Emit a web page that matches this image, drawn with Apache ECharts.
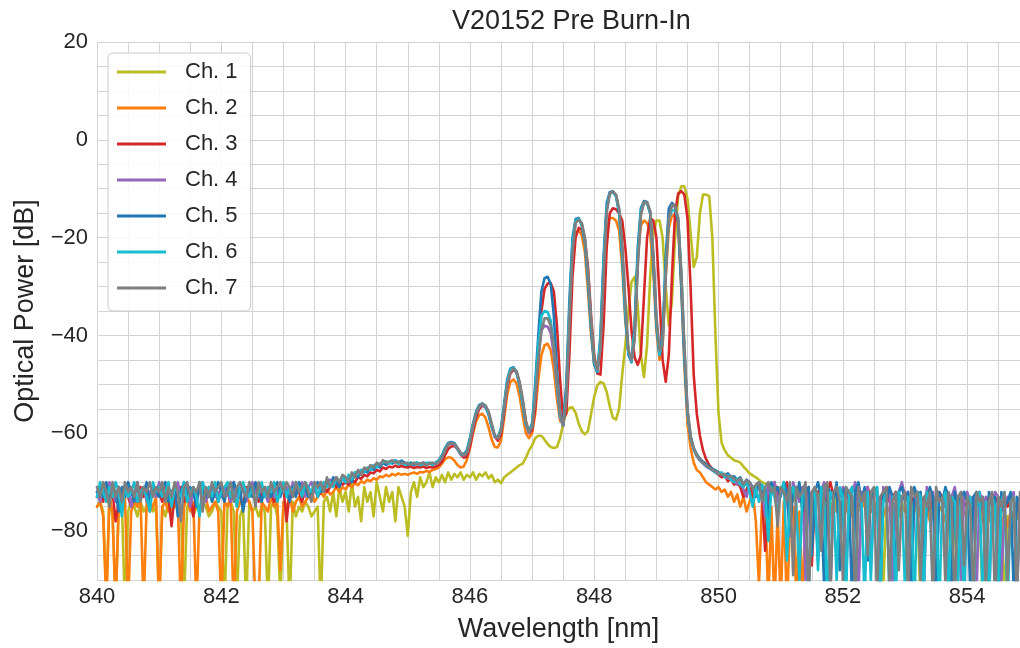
<!DOCTYPE html>
<html>
<head>
<meta charset="utf-8">
<title>V20152 Pre Burn-In</title>
<script src="https://cdn.jsdelivr.net/npm/echarts@6/dist/echarts.min.js"></script>
<style>
  html, body { margin: 0; padding: 0; background: #ffffff; }
  #chart { width: 1020px; height: 648px; }
</style>
</head>
<body>
<div id="chart"></div>
<script>
// Optical spectra of the seven channels, sampled every 0.05 nm from 840 nm.
const wavelengthStart = 840;
const wavelengthStep = 0.05;

const channelNames = ['Ch. 1', 'Ch. 2', 'Ch. 3', 'Ch. 4', 'Ch. 5', 'Ch. 6', 'Ch. 7'];
const xTickLabels = [840, 842, 844, 846, 848, 850, 852, 854];
const yTickLabels = [-80, -60, -40, -20, 0, 20];

// Power in dB, one row per nanometre (840, 841, ... 854)
const ch1 = [
  -75,-74,-76,-94,-73,-77,-95,-75,-74,-96,-76,-74,-75,-77,-74,-76,-75,-73,-76,-75,
  -96,-75,-77,-74,-76,-75,-74,-76,-95,-75,-74,-77,-75,-76,-74,-75,-77,-76,-74,-75,
  -76,-96,-75,-74,-76,-95,-77,-75,-96,-74,-76,-75,-77,-75,-76,-96,-75,-74,-77,-94,
  -75,-76,-96,-74,-77,-75,-76,-74,-75,-77,-76,-75,-96,-74,-73,-76,-72,-77,-71,-74,
  -72,-76,-70,-75,-73,-78,-71,-74,-72,-77,-70,-73,-76,-71,-74,-72,-78,-71,-73,-75,
  -81,-72,-70,-73,-69,-71,-70,-68,-71,-69,-70,-68.5,-70,-68,-69.5,-68.3,-69,-68,-69.5,-68.5,
  -69,-68,-69.5,-68.3,-68.8,-68,-69.2,-68.5,-70,-69.5,-70.2,-69,-68.5,-68,-67.5,-67,-66.5,-66.2,-65,-63.5,
  -62.5,-61,-60.5,-60.5,-61.3,-62.2,-62.8,-63,-62.8,-61,-58,-55.8,-54.8,-54.7,-55.8,-58,-59.6,-60.2,-59.5,-56,
  -52.5,-50.2,-49.5,-49.8,-51.5,-54.5,-56.8,-57.2,-55,-48,-42,-35,-29,-28,-34,-44,-48.5,-42,-28,-19,
  -16.5,-16.5,-20,-30,-38,-33,-20,-11.5,-9.5,-9.5,-12,-19,-26,-24,-15,-11.2,-11.2,-11.5,-20,-40,
  -56,-62,-63.5,-64.5,-65,-65.5,-65.7,-66,-66.8,-67.5,-68.2,-68.6,-69,-69.5,-70,-70.3,-71,-70.5,-72,-71,
  -71.5,-72,-73,-71,-74,-72,-73,-75,-72,-74,-73,-76,-72,-74,-75,-73,-74,-76,-73,-75,
  -74,-75,-73,-76,-74,-90,-75,-73,-76,-74,-75,-77,-74,-92,-75,-76,-74,-75,-77,-74,
  -76,-75,-77,-74,-76,-95,-75,-77,-76,-74,-77,-75,-76,-78,-75,-93,-76,-77,-75,-76,
  -77,-75,-78,-76,-77,-94,-76,-78,-77,-75,-78,-76,-95,-77,-78,-76,-77,-78,-76
];

const ch2 = [
  -75,-74,-77,-95,-73,-76,-96,-74,-75,-73,-96,-76,-74,-75,-73,-96,-74,-76,-75,-73,
  -96,-75,-74,-76,-73,-75,-74,-96,-75,-73,-76,-74,-96,-75,-74,-73,-76,-75,-74,-76,
  -96,-74,-75,-73,-97,-76,-74,-75,-73,-74,-76,-96,-95,-74,-75,-76,-73,-75,-74,-88,
  -74,-75,-73,-76,-74,-73,-75,-74,-73,-72,-74,-73,-72,-73,-71.5,-72.5,-72,-71,-72,-71,
  -71.5,-70.5,-71,-70.2,-70.6,-69.8,-70.2,-69.5,-69.8,-69.2,-69.5,-68.8,-69,-68.5,-68.8,-68.3,-68.6,-68.2,-68.5,-68.3,
  -68.5,-68.2,-68,-68.3,-67.9,-68,-67.7,-67.9,-67.5,-67.3,-67,-66.2,-65.3,-64.9,-65,-65.6,-66.5,-67,-66.8,-65.5,
  -63,-60,-57.5,-56.3,-56,-56.8,-58.8,-61.3,-62.8,-62.9,-61.5,-57,-52,-49.5,-49,-49.8,-52.5,-56.5,-60,-61,
  -60,-56,-49,-44,-42,-41.7,-43,-47,-53,-57.5,-58,-52,-37,-24,-19,-18.5,-19.5,-23,-31,-40,
  -46,-47,-43,-28,-18,-16,-16,-16.5,-18.5,-26,-37,-43.5,-44.5,-38,-24,-17.5,-16.5,-17,-19,-27,
  -39,-45,-42,-28,-18,-15.5,-15.5,-18,-30,-46,-58,-63,-66,-67.5,-68,-69,-70,-70.5,-71,-71.5,
  -71,-72,-71.5,-73,-72,-74,-72.5,-75,-73,-76,-74,-72,-78,-91,-74,-73,-95,-75,-96,-76,
  -95,-74,-96,-78,-75,-93,-76,-95,-74,-77,-76,-75,-73,-76,-74,-75,-77,-74,-76,-75,
  -75,-76,-74,-77,-75,-76,-74,-75,-77,-76,-75,-74,-76,-77,-75,-76,-74,-77,-76,-75,
  -76,-75,-77,-76,-74,-77,-76,-75,-78,-76,-77,-75,-76,-78,-77,-76,-75,-77,-78,-76,
  -77,-76,-78,-77,-75,-78,-77,-76,-78,-77,-76,-78,-77,-79,-76,-78,-77,-76,-78
];

const ch3 = [
  -73,-72,-74,-71,-73,-72,-78,-74,-72,-71,-73,-75,-72,-74,-71,-73,-72,-74,-71,-73,
  -72,-74,-71,-73,-79,-72,-73,-71,-74,-72,-73,-77,-72,-71,-74,-72,-73,-71,-72,-74,
  -71,-73,-72,-74,-71,-72,-73,-75,-71,-73,-72,-71,-74,-72,-73,-71,-72,-74,-73,-72,
  -71,-78,-72,-73,-71,-72,-74,-71,-73,-72,-71,-73,-72,-71,-72,-71,-70,-71,-70,-70.5,
  -70,-70.5,-69.5,-70,-69,-69.3,-68.5,-68.8,-68,-68.2,-67.5,-67.8,-67,-67.3,-66.8,-67,-66.6,-66.9,-66.7,-66.9,
  -67,-66.8,-67.1,-66.9,-67,-66.8,-67.1,-66.9,-67,-66.8,-66.5,-65.8,-64.5,-63.2,-62.7,-62.6,-63.2,-64.3,-65,-64.8,
  -62.8,-59.5,-56.8,-55,-54.4,-54.6,-55.8,-58.2,-60.7,-61.5,-60.3,-56,-50.5,-47.8,-47,-47.5,-49.8,-53.5,-57.5,-60,
  -59.5,-55,-45,-35,-30.5,-29.4,-29.3,-31,-38,-49,-57,-56,-44,-28,-20,-18,-18.3,-20.5,-26,-36,
  -44,-47.8,-48,-38,-22,-15,-14,-14.2,-15,-16.5,-22,-30,-39,-44.5,-46,-44,-32,-20,-16,-16.5,
  -20,-32,-45,-49.5,-44,-28,-15,-11,-10.5,-11.2,-16,-30,-48,-56,-60.5,-63.5,-65.3,-66.5,-67.3,-68,
  -68.5,-69,-68.7,-69.8,-69.3,-70.5,-70,-71,-73,-71.5,-70,-74,-72,-70.5,-73,-84,-71,-72,-70,-73,
  -71.5,-72,-70,-74,-72,-71,-73,-72,-80,-71,-87,-73,-72,-71,-74,-72,-70,-73,-71,-72,
  -73,-72,-74,-71,-72,-75,-72,-73,-71,-74,-72,-73,-75,-72,-71,-74,-73,-72,-74,-73,
  -72,-74,-73,-75,-72,-73,-74,-72,-76,-73,-74,-72,-73,-75,-74,-73,-72,-74,-73,-75,
  -74,-73,-75,-74,-72,-76,-74,-73,-75,-74,-73,-76,-74,-75,-73,-74,-76,-74,-75
];

const ch4 = [
  -72,-74,-71,-73,-70,-72,-74,-71,-72,-73,-71,-75,-72,-70,-73,-71,-74,-72,-71,-73,
  -70,-72,-73,-71,-74,-72,-70,-73,-72,-71,-75,-72,-73,-71,-70,-74,-72,-71,-73,-72,
  -73,-71,-72,-74,-70,-73,-72,-71,-74,-72,-70,-72,-73,-71,-72,-74,-71,-73,-72,-71,
  -72,-71,-73,-70,-72,-71,-70,-73,-71,-70,-72,-71,-70,-71,-70,-69.5,-70.5,-69,-70,-69,
  -69.5,-69,-68.5,-69,-68,-67.5,-68,-67.2,-67,-66.8,-66.5,-66.8,-66,-66.3,-65.9,-66.1,-65.7,-66,-65.9,-66.2,
  -66.3,-66.1,-66.4,-66.2,-66.3,-66.1,-66.4,-66.2,-66.3,-66.1,-65.7,-64.9,-63.4,-62.4,-62,-62.3,-63.3,-64.3,-64.6,-64,
  -61.5,-58.6,-56,-54.6,-54.2,-54.6,-56.2,-58.8,-60.8,-61,-59.3,-54.8,-49.8,-47.3,-46.8,-47.6,-50.2,-54.2,-58.2,-59.9,
  -58.6,-52,-44,-39,-38,-38.2,-39.5,-44,-50.5,-56.8,-58.5,-52.5,-36,-22,-16.8,-16.2,-17.2,-20.5,-28,-38,
  -45.8,-47.4,-42,-26,-14.2,-11,-10.7,-11.3,-14.5,-22.5,-34.5,-43.5,-45.2,-40,-25,-15,-12.8,-12.9,-14.8,-24,
  -37,-43.5,-41,-26,-15.5,-13.5,-13.6,-16.5,-28,-43,-55.5,-60.8,-63.3,-64.7,-65.6,-66.2,-66.8,-67.2,-67.6,-68,
  -68.4,-68.1,-68.8,-69.3,-68.9,-69.6,-70.5,-70,-71.5,-73,-70.5,-71,-73,-70,-72,-77,-71,-72,-70,-74,
  -72,-71,-73,-81,-70,-72,-74,-71,-90,-72,-73,-71,-86,-72,-70,-74,-93,-72,-71,-73,
  -71,-89,-73,-72,-70,-94,-72,-74,-71,-88,-73,-72,-95,-71,-73,-72,-91,-74,-72,-70,
  -73,-72,-90,-74,-72,-73,-95,-71,-74,-72,-89,-73,-74,-72,-94,-73,-71,-75,-90,-73,
  -72,-74,-73,-93,-72,-75,-73,-96,-74,-72,-73,-91,-75,-73,-74,-72,-94,-74,-73
];

const ch5 = [
  -72,-71,-73,-70,-74,-71,-72,-76,-71,-73,-70,-72,-74,-71,-73,-72,-70,-75,-71,-72,
  -73,-71,-70,-74,-72,-71,-77,-72,-70,-73,-71,-72,-75,-70,-72,-73,-71,-74,-72,-70,
  -72,-74,-71,-73,-70,-72,-71,-76,-72,-71,-73,-70,-72,-74,-71,-72,-73,-71,-70,-73,
  -71,-72,-74,-71,-73,-70,-72,-71,-73,-72,-71,-70,-72,-71,-70,-71,-69,-70,-71,-69,
  -70,-69,-70,-68,-69,-68,-67.5,-68,-67,-67.5,-66.5,-67,-66,-66.5,-65.8,-66.2,-65.5,-66,-65.6,-66,
  -66.5,-66,-66.5,-66,-66.5,-66,-66.5,-66,-66.5,-66,-65.5,-64.5,-63,-62,-61.8,-62,-63,-64,-64.3,-63.5,
  -61,-58,-55.5,-54.2,-53.9,-54.5,-56,-58.5,-60.5,-60.8,-59,-54,-49,-46.8,-46.5,-47.5,-50,-54,-58,-59.6,
  -58,-50,-40,-31,-28.3,-28,-29.5,-36,-47,-56,-58.2,-50,-33,-20,-16.2,-16,-17.5,-21,-29,-39,
  -46,-47.5,-40,-24,-13,-10.7,-10.5,-11.5,-15,-24,-36,-44,-45.5,-38,-22,-14,-12.5,-12.7,-15,-25,
  -38,-44,-40,-24,-14,-12.9,-13.5,-17,-30,-45,-56,-61,-63,-64.3,-65.2,-65.8,-66.3,-66.8,-67.2,-67.6,
  -68,-68.3,-68.6,-68.2,-69,-68.8,-69.5,-69,-70.5,-69.5,-70,-71,-73,-70,-72,-71,-78,-70,-72,-71,
  -73,-70,-72,-80,-71,-73,-70,-76,-72,-71,-85,-72,-70,-73,-92,-71,-72,-74,-70,-88,
  -72,-71,-73,-95,-72,-70,-74,-71,-86,-73,-72,-71,-93,-72,-74,-71,-73,-90,-72,-71,
  -74,-72,-95,-71,-73,-72,-88,-74,-71,-73,-96,-72,-74,-71,-73,-91,-72,-75,-73,-72,
  -74,-92,-73,-72,-75,-73,-89,-72,-74,-73,-95,-72,-75,-74,-72,-93,-73,-74,-72
];

const ch6 = [
  -73,-70,-72,-74,-71,-73,-70,-72,-77,-71,-73,-72,-70,-74,-72,-71,-73,-76,-70,-72,
  -71,-73,-72,-70,-75,-71,-72,-73,-70,-74,-72,-71,-73,-77,-70,-72,-71,-73,-70,-74,
  -72,-71,-70,-73,-72,-75,-71,-70,-72,-73,-71,-74,-72,-70,-73,-71,-72,-70,-74,-72,
  -70,-73,-71,-72,-70,-71,-73,-70,-71,-72,-70,-73,-71,-70,-71,-70,-71,-69,-70,-69,
  -70,-68.5,-69.5,-68,-68.5,-67.5,-68,-67,-67.5,-66.5,-67,-66.2,-66,-65.7,-66.2,-65.8,-65.6,-66.3,-66,-66.4,
  -66,-66.4,-66.2,-66,-66.5,-66.3,-66,-66.2,-66.4,-66,-65.6,-64.8,-63.2,-62.2,-62,-62.1,-63.2,-64.2,-64.4,-63.8,
  -61.2,-58.2,-55.8,-54.4,-54,-54.4,-56,-58.6,-60.6,-60.9,-59.2,-54.5,-49.5,-47,-46.6,-47.4,-50,-54,-58,-59.7,
  -58.3,-51,-42,-36,-35,-35.2,-37,-42,-50,-56.5,-58.4,-52,-35,-21,-16.5,-16.1,-17.3,-20.5,-28,-38,
  -45.5,-47.3,-41,-25,-14,-11,-10.7,-11.5,-14.5,-23,-35,-43.5,-45.3,-39,-24,-14.5,-12.8,-13,-15,-24,
  -37,-44,-41,-26,-16,-14.5,-14.3,-16,-27,-43,-55.5,-60.5,-63.2,-64.6,-65.5,-66.1,-66.6,-67.1,-67.5,-68,
  -68.3,-68,-69,-68.6,-69.5,-70,-69.3,-70.5,-71,-70,-72,-75,-71,-74,-70.5,-72,-82,-71,-73,-76,
  -72,-70,-86,-73,-71,-74,-90,-72,-71,-95,-73,-72,-88,-71,-74,-96,-72,-73,-90,-71,
  -73,-94,-72,-71,-92,-74,-73,-95,-72,-90,-73,-71,-96,-74,-72,-93,-73,-95,-72,-74,
  -92,-73,-74,-96,-72,-73,-94,-72,-75,-91,-73,-96,-74,-72,-95,-73,-74,-92,-73,-96,
  -74,-73,-95,-75,-72,-94,-74,-96,-73,-75,-93,-74,-72,-96,-74,-73,-92,-75,-74
];

const ch7 = [
  -71,-73,-70,-72,-75,-70,-73,-71,-74,-70,-72,-71,-73,-70,-74,-71,-72,-70,-73,-71,
  -72,-70,-74,-71,-73,-70,-72,-78,-71,-70,-73,-71,-72,-70,-76,-71,-73,-70,-72,-71,
  -70,-73,-72,-70,-74,-71,-70,-72,-73,-70,-71,-75,-70,-72,-71,-73,-70,-72,-71,-70,
  -72,-70,-71,-73,-70,-72,-71,-70,-72,-74,-70,-71,-70,-72,-69,-71,-70,-69,-70,-68.5,
  -69,-70,-68,-69,-67.5,-68.5,-67,-67.5,-66.5,-67,-66,-66.5,-65.5,-66,-65.8,-65.5,-66,-65.8,-66.2,-66,
  -66.2,-66.5,-66,-66.4,-66.2,-66,-66.5,-66.2,-66,-66.3,-65.8,-65,-63.5,-62.3,-62,-62.2,-63,-64,-64.5,-64,
  -61.8,-58.5,-56,-54.5,-54,-54.3,-55.5,-58,-60.5,-61,-59.5,-55,-50,-47.5,-46.8,-47.3,-49.5,-53,-57.5,-59.8,
  -58.8,-53,-45,-39,-36.5,-36.5,-38,-42,-49,-56,-58.5,-53,-37,-23,-17,-16.3,-17,-20,-27,-37,
  -45,-47,-43,-28,-15,-11,-10.6,-11.2,-14,-21,-33,-43,-45,-41,-26,-15.5,-12.7,-12.8,-14.5,-23,
  -36,-43,-42,-28,-16,-13.3,-13.5,-16,-27,-42,-55,-60.5,-63,-64.5,-65.4,-66,-66.5,-67,-67.4,-67.8,
  -68.2,-68.5,-68.3,-69,-68.7,-69.3,-69.8,-69.2,-70.5,-69.6,-70,-71.5,-70.5,-70,-74,-71,-70,-72,-71,-79,
  -71,-72,-74,-70,-89,-71,-73,-72,-70,-95,-72,-71,-73,-84,-71,-70,-93,-72,-71,-74,
  -90,-71,-72,-73,-96,-71,-74,-72,-85,-72,-71,-94,-73,-72,-71,-92,-74,-72,-88,-73,
  -72,-94,-71,-73,-72,-90,-73,-75,-72,-96,-71,-74,-73,-91,-72,-74,-95,-73,-72,-87,
  -73,-75,-94,-72,-74,-73,-92,-74,-72,-96,-73,-75,-72,-90,-74,-73,-95,-72,-74
];

const channelValues = [ch1, ch2, ch3, ch4, ch5, ch6, ch7];
const channelColors = ['#bcbd22', '#ff7f0e', '#d62728', '#9467bd', '#1f77b4', '#17becf', '#7f7f7f'];

const FONT = '"Liberation Sans", Arial, "DejaVu Sans", sans-serif';
const TEXT = '#262626';
const GRID = '#d3d3d3';

function toPoints(values) {
  return values.map((v, i) => [+(wavelengthStart + i * wavelengthStep).toFixed(2), v]);
}

function minusSign(v) {
  return v < 0 ? '\u2212' + Math.abs(v) : String(v);
}

const chart = echarts.init(document.getElementById('chart'), null, { renderer: 'canvas' });

chart.setOption({
  animation: false,
  backgroundColor: '#ffffff',
  textStyle: { fontFamily: FONT },
  title: {
    text: 'V20152 Pre Burn-In',
    left: 447,
    top: 3,
    textStyle: { fontFamily: FONT, fontSize: 27, fontWeight: 'normal', color: TEXT }
  },
  grid: { left: 97, right: 0, top: 42, bottom: 60, containLabel: false },
  legend: {
    data: channelNames,
    orient: 'vertical',
    left: 108,
    top: 53,
    icon: 'rect',
    itemWidth: 49,
    itemHeight: 3,
    itemGap: 12,
    padding: [7, 13, 11, 9],
    backgroundColor: 'rgba(255,255,255,0.85)',
    borderColor: '#cccccc',
    borderWidth: 1,
    borderRadius: 5,
    textStyle: { fontFamily: FONT, fontSize: 22, lineHeight: 24, color: TEXT, padding: [0, 0, 0, 14] }
  },
  xAxis: {
    type: 'value',
    min: 840,
    max: 854.85,
    interval: 0.5,
    name: 'Wavelength [nm]',
    nameLocation: 'middle',
    nameGap: 36,
    nameTextStyle: { fontFamily: FONT, fontSize: 27, color: TEXT },
    axisLine: { show: false },
    axisTick: { show: false },
    axisLabel: {
      margin: 6,
      fontFamily: FONT,
      fontSize: 22,
      color: TEXT,
      showMaxLabel: false,
      formatter: v => (xTickLabels.includes(v) ? String(v) : '')
    },
    splitLine: { show: true, lineStyle: { color: GRID, width: 1 } }
  },
  yAxis: {
    type: 'value',
    min: -90,
    max: 20,
    interval: 5,
    name: 'Optical Power [dB]',
    nameLocation: 'middle',
    nameGap: 58,
    nameTextStyle: { fontFamily: FONT, fontSize: 27, color: TEXT },
    axisLine: { show: false },
    axisTick: { show: false },
    axisLabel: {
      margin: 9,
      fontFamily: FONT,
      fontSize: 22,
      color: TEXT,
      formatter: v => (yTickLabels.includes(v) ? minusSign(v) : '')
    },
    splitLine: { show: true, lineStyle: { color: GRID, width: 1 } }
  },
  series: channelNames.map((name, k) => ({
    name: name,
    type: 'line',
    data: toPoints(channelValues[k]),
    showSymbol: false,
    symbol: 'none',
    clip: true,
    sampling: false,
    color: channelColors[k],
    lineStyle: { color: channelColors[k], width: 2.6, join: 'round', cap: 'round' },
    emphasis: { disabled: true },
    z: 2 + k
  }))
});
</script>
</body>
</html>
